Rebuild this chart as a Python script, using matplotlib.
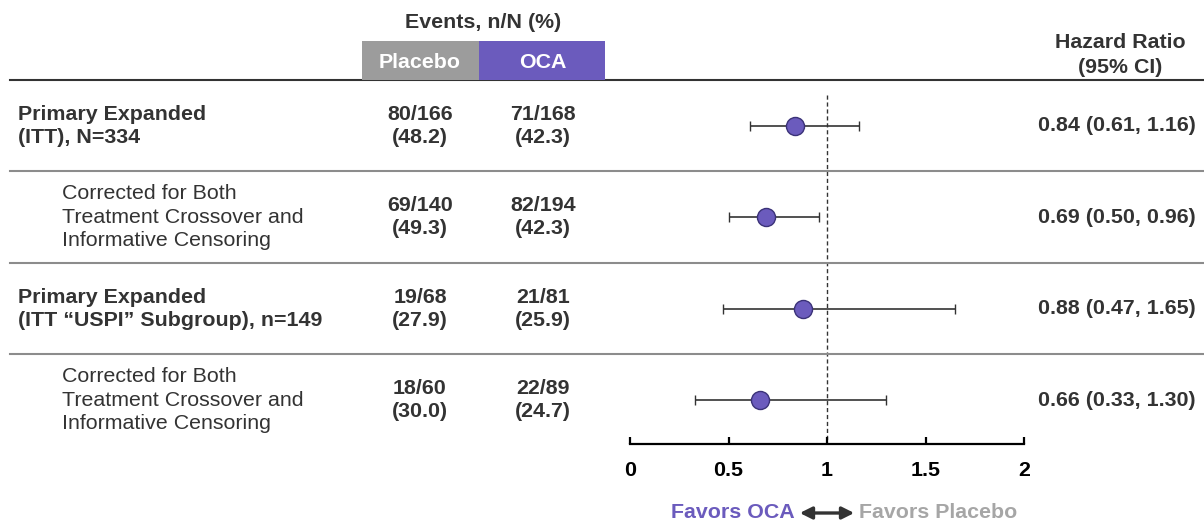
import matplotlib.pyplot as plt
from matplotlib.patches import Rectangle, FancyArrowPatch
from matplotlib.transforms import blended_transform_factory

plt.rcParams['font.family'] = ['Liberation Sans', 'DejaVu Sans']

# rows of the forest plot
row_labels = [
    "Primary Expanded\n(ITT), N=334",
    "Corrected for Both\nTreatment Crossover and\nInformative Censoring",
    "Primary Expanded\n(ITT \u201cUSPI\u201d Subgroup), n=149",
    "Corrected for Both\nTreatment Crossover and\nInformative Censoring",
]
row_is_main = [True, False, True, False]
placebo_n = [80, 69, 19, 18]
placebo_N = [166, 140, 68, 60]
placebo_pct = [48.2, 49.3, 27.9, 30.0]
oca_n = [71, 82, 21, 22]
oca_N = [168, 194, 81, 89]
oca_pct = [42.3, 42.3, 25.9, 24.7]
hr = [0.84, 0.69, 0.88, 0.66]
hr_lo = [0.61, 0.50, 0.47, 0.33]
hr_hi = [1.16, 0.96, 1.65, 1.30]
x_ticks = [0, 0.5, 1, 1.5, 2]
x_ticklabels = ["0", "0.5", "1", "1.5", "2"]

W, H = 1204, 525
PURPLE = "#6b5bbd"
GREY_BOX = "#9c9c9c"
TXT = "#333333"
FS = 15.4

fig = plt.figure(figsize=(W / 100, H / 100), dpi=100)


def fx(px):
    return px / W


def fy(py):
    return 1 - py / H


ax = fig.add_axes([fx(630), fy(444), fx(1024) - fx(630), fy(80) - fy(444)])
ax.set_xlim(0, 2)
ax.set_ylim(3.48, -0.5)

ys = list(range(len(hr)))
xerr = [[h - l for h, l in zip(hr, hr_lo)], [u - h for h, u in zip(hr, hr_hi)]]
ax.errorbar(hr, ys, xerr=xerr, fmt="o", color="#333333", ecolor="#333333",
            elinewidth=1.2, capsize=3.5, capthick=1.4, markersize=13,
            markerfacecolor=PURPLE, markeredgecolor="#3b3278",
            markeredgewidth=1.0, zorder=3)
ax.vlines(1, -0.34, 3.48, colors="#333333", linestyles=(0, (3, 2)), lw=1.0, zorder=1)

for s in ["top", "right", "left"]:
    ax.spines[s].set_visible(False)
ax.spines["bottom"].set_linewidth(1.6)
ax.set_yticks([])
ax.set_xticks(x_ticks)
ax.set_xticklabels(x_ticklabels, fontsize=FS, fontweight="bold")
ax.tick_params(axis="x", direction="in", length=5, width=1.6, pad=12)

tr = blended_transform_factory(fig.transFigure, ax.transData)

# header rule and row separators
ax.plot([fx(10), 1], [-0.5, -0.5], transform=tr, color="#333333", lw=1.5, clip_on=False)
for yy in [0.5, 1.5, 2.5]:
    ax.plot([fx(10), 1], [yy, yy], transform=tr, color="#8c8c8c", lw=1.5, clip_on=False)

for i, y in enumerate(ys):
    if row_is_main[i]:
        ax.text(fx(18), y, row_labels[i], transform=tr, ha="left", va="center",
                fontsize=FS, fontweight="bold", color=TXT, linespacing=1.27)
    else:
        ax.text(fx(62), y, row_labels[i], transform=tr, ha="left", va="center",
                fontsize=FS, color=TXT, linespacing=1.28)
    ax.text(fx(420), y, f"{placebo_n[i]}/{placebo_N[i]}\n({placebo_pct[i]:.1f})",
            transform=tr, ha="center", va="center", fontsize=FS,
            fontweight="bold", color=TXT, linespacing=1.27)
    ax.text(fx(543), y, f"{oca_n[i]}/{oca_N[i]}\n({oca_pct[i]:.1f})",
            transform=tr, ha="center", va="center", fontsize=FS,
            fontweight="bold", color=TXT, linespacing=1.27)
    ax.text(fx(1196), y, f"{hr[i]:.2f} ({hr_lo[i]:.2f}, {hr_hi[i]:.2f})",
            transform=tr, ha="right", va="center", fontsize=FS,
            fontweight="bold", color=TXT)

# column headers
fig.text(fx(483), fy(22), "Events, n/N (%)", ha="center", va="center",
         fontsize=FS, fontweight="bold", color=TXT)
fig.patches.append(Rectangle((fx(362), fy(80)), fx(479) - fx(362), fy(41) - fy(80),
                             transform=fig.transFigure, facecolor=GREY_BOX, edgecolor="none"))
fig.patches.append(Rectangle((fx(479), fy(80)), fx(605) - fx(479), fy(41) - fy(80),
                             transform=fig.transFigure, facecolor=PURPLE, edgecolor="none"))
fig.text(fx(420), fy(63), "Placebo", ha="center", va="center", fontsize=FS,
         fontweight="bold", color="white")
fig.text(fx(543), fy(63), "OCA", ha="center", va="center", fontsize=FS,
         fontweight="bold", color="white")
fig.text(fx(1120), fy(55), "Hazard Ratio\n(95% CI)", ha="center", va="center",
         fontsize=FS, fontweight="bold", color=TXT, linespacing=1.35)

# direction legend under the axis
fig.text(fx(795), fy(513), "Favors OCA", ha="right", va="center", fontsize=FS,
         fontweight="bold", color=PURPLE)
fig.text(fx(859), fy(513), "Favors Placebo", ha="left", va="center", fontsize=FS,
         fontweight="bold", color="#a6a6a6")
fig.add_artist(FancyArrowPatch(
    (fx(797), fy(513)), (fx(857), fy(513)), transform=fig.transFigure,
    arrowstyle="<|-|>", mutation_scale=18, color="#333333", lw=2.4))

fig.savefig("out.png", dpi=100)
